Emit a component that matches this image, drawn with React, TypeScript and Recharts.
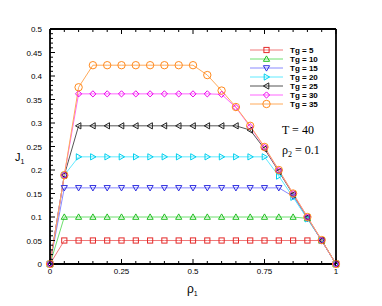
import React from 'react'
import { LineChart, Line, XAxis, YAxis } from 'recharts'

const rho1 = [0, 0.05, 0.1, 0.15, 0.2, 0.25, 0.3, 0.35, 0.4, 0.45, 0.5, 0.55, 0.6, 0.65, 0.7, 0.75, 0.8, 0.85, 0.9, 0.95, 1]

const tg5 = [0, 0.05, 0.05, 0.05, 0.05, 0.05, 0.05, 0.05, 0.05, 0.05, 0.05, 0.05, 0.05, 0.05, 0.05, 0.05, 0.05, 0.05, 0.05, 0.05, 0]
const tg10 = [0, 0.1, 0.1, 0.1, 0.1, 0.1, 0.1, 0.1, 0.1, 0.1, 0.1, 0.1, 0.1, 0.1, 0.1, 0.1, 0.1, 0.1, 0.097, 0.05, 0]
const tg15 = [0, 0.162, 0.162, 0.162, 0.162, 0.162, 0.162, 0.162, 0.162, 0.162, 0.162, 0.162, 0.162, 0.162, 0.162, 0.162, 0.162, 0.144, 0.097, 0.05, 0]
const tg20 = [0, 0.189, 0.228, 0.228, 0.228, 0.228, 0.228, 0.228, 0.228, 0.228, 0.228, 0.228, 0.228, 0.228, 0.228, 0.228, 0.187, 0.142, 0.096, 0.05, 0]
const tg25 = [0, 0.189, 0.294, 0.294, 0.294, 0.294, 0.294, 0.294, 0.294, 0.294, 0.294, 0.294, 0.294, 0.294, 0.285, 0.245, 0.197, 0.148, 0.099, 0.05, 0]
const tg30 = [0, 0.189, 0.362, 0.362, 0.362, 0.362, 0.362, 0.362, 0.362, 0.362, 0.362, 0.362, 0.361, 0.333, 0.292, 0.248, 0.199, 0.15, 0.1, 0.05, 0]
const tg35 = [0, 0.189, 0.376, 0.423, 0.423, 0.423, 0.423, 0.423, 0.423, 0.423, 0.423, 0.402, 0.369, 0.334, 0.294, 0.249, 0.2, 0.15, 0.1, 0.051, 0]

const xTicks = [0, 0.25, 0.5, 0.75, 1]
const yTicks = [0, 0.05, 0.1, 0.15, 0.2, 0.25, 0.3, 0.35, 0.4, 0.45, 0.5]

type Shape = 'square' | 'up' | 'down' | 'right' | 'left' | 'diamond' | 'circle'

const series: { key: string; name: string; values: number[]; color: string; line: string; shape: Shape }[] = [
  { key: 'tg5', name: 'Tg = 5', values: tg5, color: '#e42a2a', line: '#f07a7a', shape: 'square' },
  { key: 'tg10', name: 'Tg = 10', values: tg10, color: '#1fbf1f', line: '#6ee06e', shape: 'up' },
  { key: 'tg15', name: 'Tg = 15', values: tg15, color: '#3030e0', line: '#8a8aff', shape: 'down' },
  { key: 'tg20', name: 'Tg = 20', values: tg20, color: '#00d0ee', line: '#60eaff', shape: 'right' },
  { key: 'tg25', name: 'Tg = 25', values: tg25, color: '#222222', line: '#555555', shape: 'left' },
  { key: 'tg30', name: 'Tg = 30', values: tg30, color: '#ee00ee', line: '#ff66ff', shape: 'diamond' },
  { key: 'tg35', name: 'Tg = 35', values: tg35, color: '#ff8a1e', line: '#ffaa5a', shape: 'circle' },
]

const rows = rho1.map((r, i) => {
  const row: Record<string, number> = { rho: r }
  series.forEach((s) => {
    row[s.key] = s.values[i]
  })
  return row
})

// minor ticks for the frame (majors come from xTicks / yTicks)
const xMinor: number[] = []
for (let i = 0; i <= 20; i++) xMinor.push(Math.round(i * 5) / 100)
const yMinor: number[] = []
for (let i = 0; i <= 50; i++) yMinor.push(i / 100)

const isMajorX = (v: number) => xTicks.some((t) => Math.abs(t - v) < 1e-6)
const isMajorY = (v: number) => yTicks.some((t) => Math.abs(t - v) < 1e-6)

const W = 382
const H = 306
const tickFont = "'Liberation Sans', Arial, sans-serif"
const serif = "'Liberation Serif', 'Times New Roman', serif"

function marker(shape: Shape, cx: number, cy: number, color: string, k: string | number) {
  const s = 3.1
  const b = 2.3
  const common = { fill: 'none', stroke: color, strokeWidth: 1 }
  switch (shape) {
    case 'square':
      return <rect key={k} x={cx - 2.6} y={cy - 2.6} width={5.2} height={5.2} {...common} />
    case 'up':
      return <polygon key={k} points={`${cx},${cy - s} ${cx - s},${cy + b} ${cx + s},${cy + b}`} {...common} />
    case 'down':
      return <polygon key={k} points={`${cx - s},${cy - b} ${cx + s},${cy - b} ${cx},${cy + s}`} {...common} />
    case 'right':
      return <polygon key={k} points={`${cx - b},${cy - s} ${cx - b},${cy + s} ${cx + s},${cy}`} {...common} />
    case 'left':
      return <polygon key={k} points={`${cx + b},${cy - s} ${cx + b},${cy + s} ${cx - s},${cy}`} {...common} />
    case 'diamond':
      return <polygon key={k} points={`${cx},${cy - s} ${cx + s},${cy} ${cx},${cy + s} ${cx - s},${cy}`} {...common} />
    default:
      return <circle key={k} cx={cx} cy={cy} r={3.7} {...common} />
  }
}

const BottomTick = (props: any) => {
  const { x, y, payload } = props
  const v = payload.value as number
  const major = isMajorX(v)
  return (
    <g>
      <line x1={x} x2={x} y1={y} y2={y - (major ? 5 : 3)} stroke="#000" strokeWidth={1} />
      {major && (
        <text x={x} y={y + 10} textAnchor="middle" fontSize={8} fontFamily={tickFont} fill="#000">
          {String(v)}
        </text>
      )}
    </g>
  )
}

const TopTick = (props: any) => {
  const { x, y, payload } = props
  const major = isMajorX(payload.value)
  return <line x1={x} x2={x} y1={y} y2={y + (major ? 5 : 3)} stroke="#000" strokeWidth={1} />
}

const LeftTick = (props: any) => {
  const { x, y, payload } = props
  const v = payload.value as number
  const major = isMajorY(v)
  return (
    <g>
      <line x1={x} x2={x + (major ? 5 : 3)} y1={y} y2={y} stroke="#000" strokeWidth={1} />
      {major && (
        <text x={x - 8} y={y + 3} textAnchor="end" fontSize={8} fontFamily={tickFont} fill="#000">
          {String(v)}
        </text>
      )}
    </g>
  )
}

const RightTick = (props: any) => {
  const { x, y, payload } = props
  const major = isMajorY(payload.value)
  return <line x1={x} x2={x - (major ? 5 : 3)} y1={y} y2={y} stroke="#000" strokeWidth={1} />
}

const YLabel = (props: any) => {
  const { viewBox } = props
  const cy = viewBox.y + viewBox.height / 2
  return (
    <text x={15} y={cy + 14} fontSize={11} fontFamily={tickFont} fill="#000">
      J<tspan fontSize={7} dy={3}>1</tspan>
    </text>
  )
}

const XLabel = (props: any) => {
  const { viewBox } = props
  const cx = viewBox.x + viewBox.width / 2
  return (
    <text x={cx - 6} y={293} fontSize={12} fontFamily={tickFont} fill="#000">
      ρ<tspan fontSize={7} dy={3}>1</tspan>
    </text>
  )
}

export default function App() {
  return (
    <div style={{ position: 'fixed', left: 0, top: 0, width: W, height: H, background: '#fff' }}>
      <LineChart width={W} height={H} data={rows} margin={{ top: 28, right: 45, bottom: 0, left: 0 }}>
        <XAxis
          xAxisId="bottom"
          dataKey="rho"
          type="number"
          domain={[0, 1]}
          ticks={xMinor}
          interval={0}
          height={42}
          tickSize={0}
          tickMargin={0}
          tick={<BottomTick />}
          axisLine={{ stroke: '#000', strokeWidth: 1.8 }}
          label={<XLabel />}
        />
        <XAxis
          xAxisId="top"
          orientation="top"
          dataKey="rho"
          type="number"
          domain={[0, 1]}
          ticks={xMinor}
          interval={0}
          height={1}
          tickSize={0}
          tickMargin={0}
          tick={<TopTick />}
          axisLine={{ stroke: '#000', strokeWidth: 1.8 }}
        />
        <YAxis
          yAxisId="left"
          type="number"
          domain={[0, 0.5]}
          ticks={yMinor}
          interval={0}
          width={50}
          tickSize={0}
          tickMargin={0}
          tick={<LeftTick />}
          axisLine={{ stroke: '#000', strokeWidth: 1.8 }}
          label={<YLabel />}
        />
        <YAxis
          yAxisId="right"
          orientation="right"
          type="number"
          domain={[0, 0.5]}
          ticks={yMinor}
          interval={0}
          width={1}
          tickSize={0}
          tickMargin={0}
          tick={<RightTick />}
          axisLine={{ stroke: '#000', strokeWidth: 1.8 }}
        />
        {series.map((s) => (
          <Line
            key={s.key}
            xAxisId="bottom"
            yAxisId="left"
            type="linear"
            dataKey={s.key}
            name={s.name}
            stroke={s.line}
            strokeWidth={1}
            isAnimationActive={false}
            dot={(p: any) => marker(s.shape, p.cx, p.cy, s.color, `${s.key}-${p.index}`)}
            activeDot={false}
          />
        ))}
      </LineChart>
      <svg
        width={W}
        height={H}
        style={{ position: 'absolute', left: 0, top: 0, pointerEvents: 'none' }}
      >
        {series.map((s, i) => {
          const y = 50 + i * 9
          return (
            <g key={s.key}>
              <line x1={250} x2={283} y1={y} y2={y} stroke={s.line} strokeWidth={1} />
              {marker(s.shape, 266.5, y, s.color, 'm')}
              <text x={290} y={y + 3} fontSize={8} fontWeight="bold" fontFamily={tickFont} fill="#000">
                {s.name}
              </text>
            </g>
          )
        })}
        <text x={282} y={134} fontSize={12} fontFamily={serif} fill="#000">
          T = 40
        </text>
        <text x={282} y={154} fontSize={12} fontFamily={serif} fill="#000">
          ρ<tspan fontSize={8} dy={3}>2</tspan>
          <tspan dy={-3}> = 0.1</tspan>
        </text>
      </svg>
    </div>
  )
}
